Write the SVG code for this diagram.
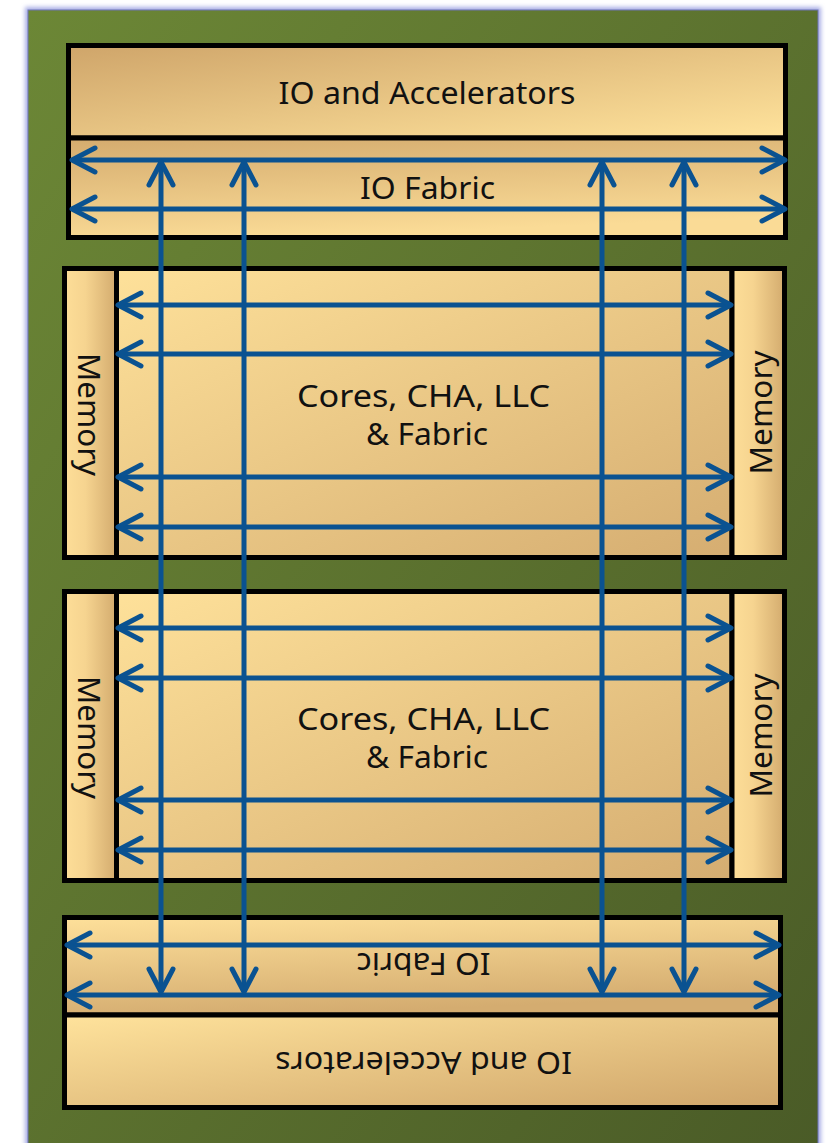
<svg xmlns="http://www.w3.org/2000/svg" width="828" height="1143" viewBox="0 0 828 1143">
<defs>
<style>
.box{stroke:#000;stroke-width:5;stroke-linejoin:miter}
.lbl{font-family:"Noto Sans","Liberation Sans",sans-serif;font-size:30px;fill:#111;text-anchor:middle}
.arr{stroke:#0A5291;stroke-width:5;fill:none;marker-start:url(#head);marker-end:url(#head)}
</style>
<linearGradient id="gGreen" x1="0" y1="0" x2="1" y2="1"><stop offset="0" stop-color="#6C8736"/><stop offset="1" stop-color="#4A5B27"/></linearGradient>
<linearGradient id="gIOTop" x1="0" y1="0" x2="1" y2="1"><stop offset="0" stop-color="#CFA56A"/><stop offset="1" stop-color="#FFE39C"/></linearGradient>
<linearGradient id="gFabTop" x1="0" y1="0" x2="0.3" y2="1"><stop offset="0" stop-color="#D4AB6E"/><stop offset="1" stop-color="#FADB96"/></linearGradient>
<linearGradient id="gCore" x1="0" y1="0" x2="1" y2="1"><stop offset="0" stop-color="#FEE19A"/><stop offset="1" stop-color="#D5AD71"/></linearGradient>
<linearGradient id="gMem" x1="0" y1="0" x2="1" y2="0"><stop offset="0" stop-color="#FDDE98"/><stop offset="0.4" stop-color="#F6D490"/><stop offset="1" stop-color="#D3AB6E"/></linearGradient>
<linearGradient id="gFabBot" x1="0" y1="0" x2="0.3" y2="1"><stop offset="0" stop-color="#FEE09A"/><stop offset="1" stop-color="#D4AC70"/></linearGradient>
<linearGradient id="gIOBot" x1="0" y1="0" x2="1" y2="1"><stop offset="0" stop-color="#FFE39C"/><stop offset="1" stop-color="#CFA56A"/></linearGradient>
<filter id="glow" x="-5%" y="-5%" width="110%" height="110%"><feGaussianBlur stdDeviation="2"/></filter>
<marker id="head" markerUnits="userSpaceOnUse" markerWidth="40" markerHeight="40" viewBox="-30 -20 40 40" refX="0" refY="0" orient="auto-start-reverse">
<path d="M-23,-12 L0,0 L-23,12" fill="none" stroke="#0A5291" stroke-width="5" stroke-linecap="round" stroke-linejoin="round"/>
</marker>
</defs>
<rect x="0" y="0" width="828" height="1143" fill="#FFFFFF"/>
<g id="background">
<rect x="25" y="7" width="796" height="1150" fill="#A9AEE6" filter="url(#glow)"/>
<rect x="28" y="10" width="790" height="1150" fill="url(#gGreen)" stroke="#6F74B5" stroke-width="1"/>
</g>
<g id="io-accel-top">
<rect class="box" x="68.5" y="45.5" width="717" height="92.5" fill="url(#gIOTop)"/>
<text class="lbl" x="427" y="104" textLength="297" lengthAdjust="spacingAndGlyphs">IO and Accelerators</text>
</g>
<g id="io-fabric-top">
<rect class="box" x="68.5" y="138" width="717" height="99.5" fill="url(#gFabTop)"/>
<text class="lbl" x="427.5" y="199" textLength="135" lengthAdjust="spacingAndGlyphs">IO Fabric</text>
</g>
<g id="memory-1-left">
<rect class="box" x="64.5" y="268.5" width="52" height="289" fill="url(#gMem)"/>
<text class="lbl" transform="translate(78,414.5) rotate(90)" x="0" y="0" textLength="123" lengthAdjust="spacingAndGlyphs">Memory</text>
</g>
<g id="cores-1">
<rect class="box" x="116.5" y="268.5" width="615.5" height="289" fill="url(#gCore)"/>
<text class="lbl" x="423.5" y="407" textLength="253" lengthAdjust="spacingAndGlyphs">Cores, CHA, LLC</text>
<text class="lbl" x="427" y="445" textLength="122" lengthAdjust="spacingAndGlyphs">&amp; Fabric</text>
</g>
<g id="memory-1-right">
<rect class="box" x="732" y="268.5" width="52.5" height="289" fill="url(#gMem)"/>
<text class="lbl" transform="translate(772,412.5) rotate(-90)" x="0" y="0" textLength="124" lengthAdjust="spacingAndGlyphs">Memory</text>
</g>
<g id="memory-2-left">
<rect class="box" x="64.5" y="591.5" width="52" height="289" fill="url(#gMem)"/>
<text class="lbl" transform="translate(78,737.5) rotate(90)" x="0" y="0" textLength="123" lengthAdjust="spacingAndGlyphs">Memory</text>
</g>
<g id="cores-2">
<rect class="box" x="116.5" y="591.5" width="615.5" height="289" fill="url(#gCore)"/>
<text class="lbl" x="423.5" y="730" textLength="253" lengthAdjust="spacingAndGlyphs">Cores, CHA, LLC</text>
<text class="lbl" x="427" y="768" textLength="122" lengthAdjust="spacingAndGlyphs">&amp; Fabric</text>
</g>
<g id="memory-2-right">
<rect class="box" x="732" y="591.5" width="52.5" height="289" fill="url(#gMem)"/>
<text class="lbl" transform="translate(772,735.5) rotate(-90)" x="0" y="0" textLength="124" lengthAdjust="spacingAndGlyphs">Memory</text>
</g>
<g id="io-fabric-bottom">
<rect class="box" x="64.5" y="917.5" width="716" height="97.5" fill="url(#gFabBot)"/>
<text class="lbl" transform="translate(423.5,953) rotate(180)" x="0" y="0" textLength="134" lengthAdjust="spacingAndGlyphs">IO Fabric</text>
</g>
<g id="io-accel-bottom">
<rect class="box" x="64.5" y="1015" width="716" height="92.5" fill="url(#gIOBot)"/>
<text class="lbl" transform="translate(423.5,1052) rotate(180)" x="0" y="0" textLength="297" lengthAdjust="spacingAndGlyphs">IO and Accelerators</text>
</g>
<g id="connectors">
<line class="arr" x1="72" y1="160" x2="785" y2="160"/>
<line class="arr" x1="72" y1="209" x2="785" y2="209"/>
<line class="arr" x1="118" y1="305" x2="731" y2="305"/>
<line class="arr" x1="118" y1="354" x2="731" y2="354"/>
<line class="arr" x1="118" y1="477" x2="731" y2="477"/>
<line class="arr" x1="118" y1="527" x2="731" y2="527"/>
<line class="arr" x1="118" y1="628" x2="731" y2="628"/>
<line class="arr" x1="118" y1="678" x2="731" y2="678"/>
<line class="arr" x1="118" y1="800" x2="731" y2="800"/>
<line class="arr" x1="118" y1="850" x2="731" y2="850"/>
<line class="arr" x1="67" y1="945" x2="779" y2="945"/>
<line class="arr" x1="67" y1="995" x2="779" y2="995"/>
<line class="arr" x1="161" y1="162" x2="161" y2="992"/>
<line class="arr" x1="244" y1="162" x2="244" y2="992"/>
<line class="arr" x1="602" y1="162" x2="602" y2="992"/>
<line class="arr" x1="684" y1="162" x2="684" y2="992"/>
</g>
</svg>
